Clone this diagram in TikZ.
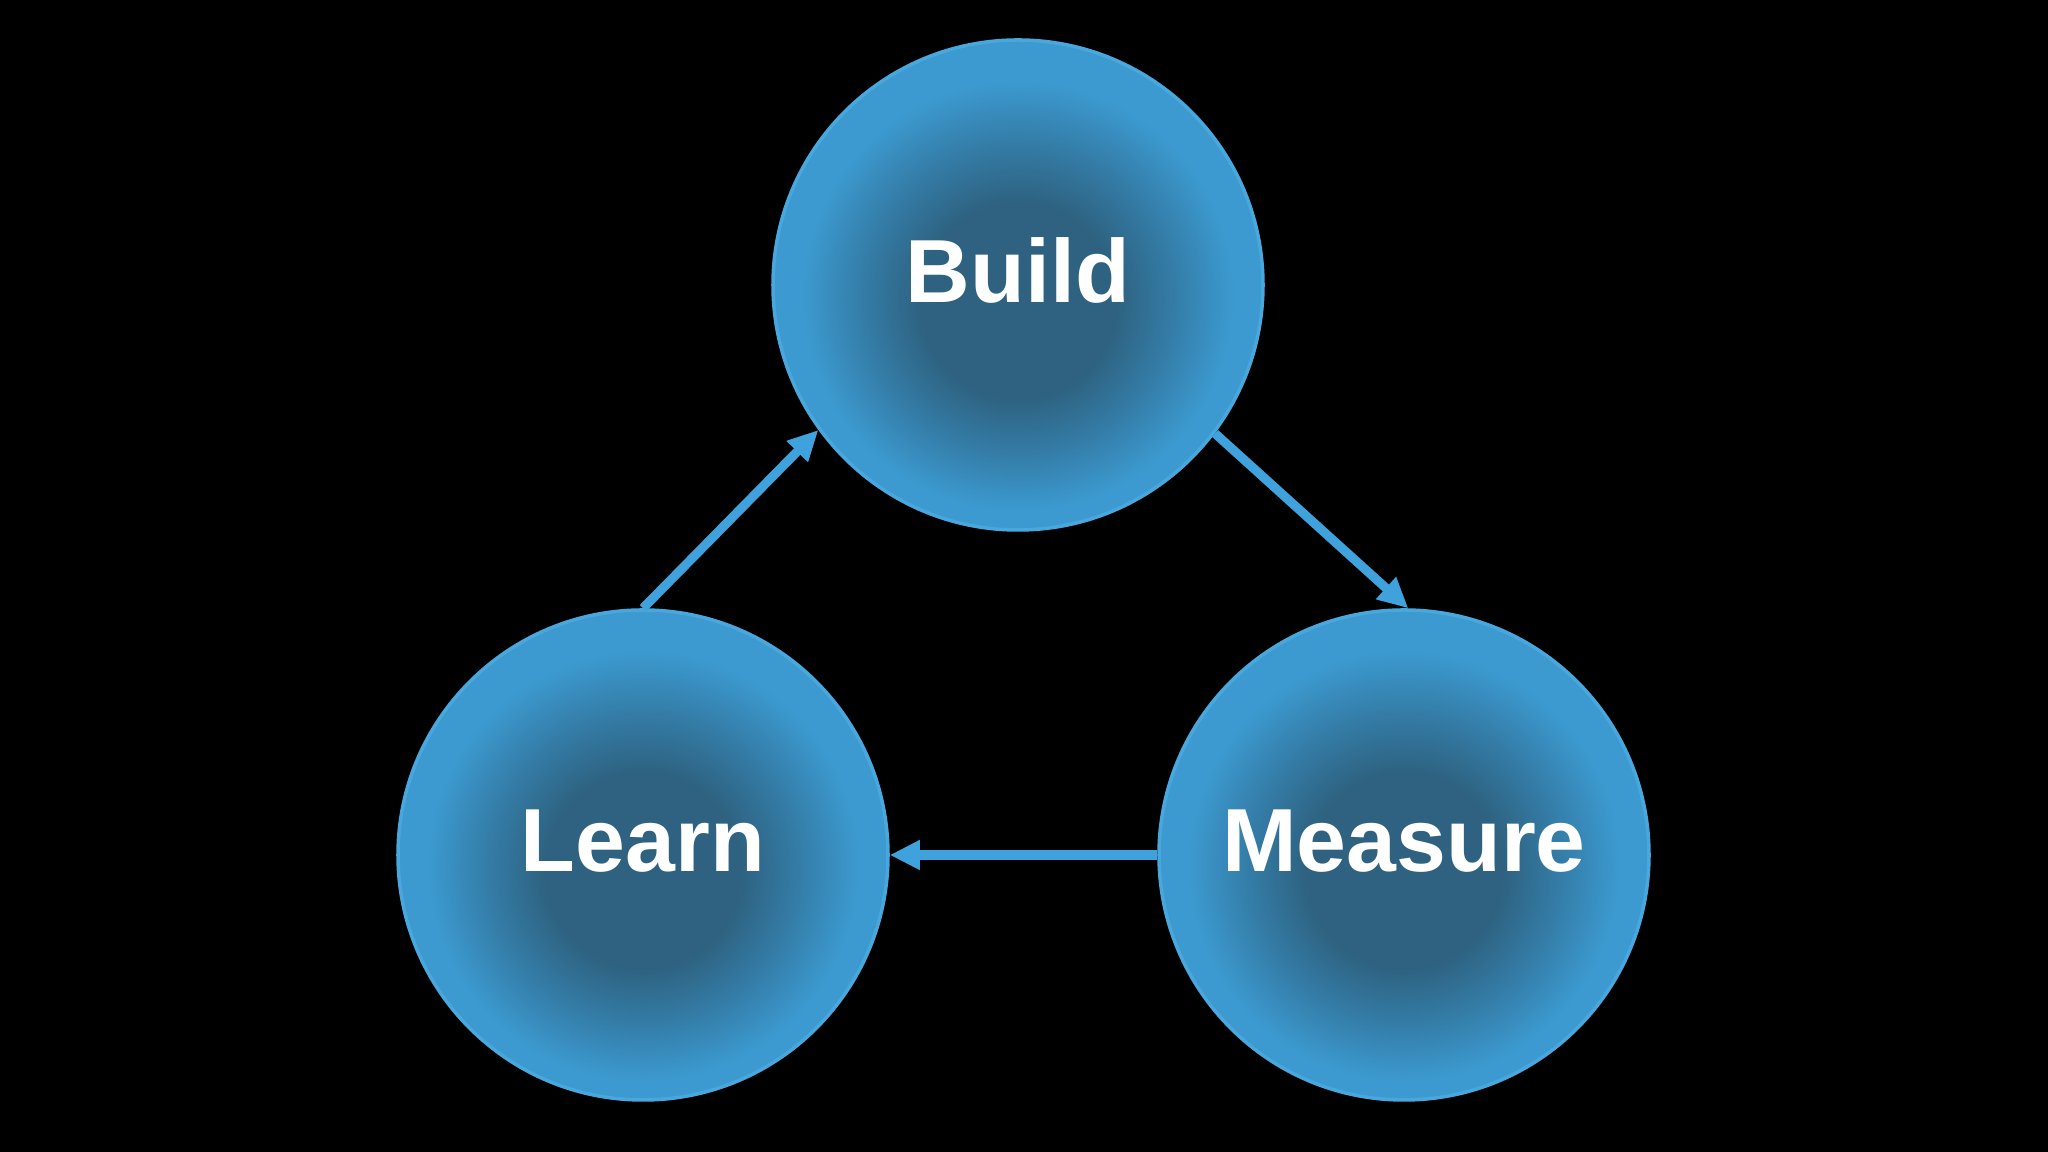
\documentclass[tikz,border=0pt]{standalone}
\usepackage{fontspec}
\setmainfont{Liberation Sans}
\usetikzlibrary{arrows.meta,calc}
\definecolor{cin}{RGB}{46,98,128}
\definecolor{cmid}{RGB}{52,125,168}
\definecolor{cout}{RGB}{60,154,208}
\definecolor{crim}{RGB}{72,168,222}
\definecolor{arrowc}{RGB}{64,162,220}
\pgfdeclareradialshading{bubble}{\pgfpoint{0bp}{-2bp}}{color(0bp)=(cin); color(10bp)=(cin); color(16bp)=(cmid); color(22bp)=(cout); color(26bp)=(cout); color(50bp)=(cout)}
\tikzset{
  bub/.style={circle, minimum size=4.9cm, inner sep=0pt, shading=bubble, draw=crim, line width=1pt},
  lbl/.style={text=white, font=\fontsize{25.5}{30}\selectfont\bfseries, inner sep=0pt},
  conn/.style={draw=arrowc, line width=2.6pt, -{Triangle[length=8.6pt, width=8pt]}}
}
\begin{document}
\begin{tikzpicture}
\fill[black] (0,0) rectangle (20.48,11.52);
\useasboundingbox (0,0) rectangle (20.48,11.52);
\node[bub] (B) at (10.18,8.67) {};
\node[bub] (L) at (6.43,2.97) {};
\node[bub] (M) at (14.04,2.97) {};
\node[lbl] (tB) at ($(B)+(0,0.15)$) {Build};
\node[lbl] (tL) at ($(L)+(0,0.14)$) {Learn};
\node[lbl] (tM) at ($(M)+(0,0.14)$) {Measure};
\draw[conn] (L.90) -- (B.216);
\draw[conn] (B.323) -- (M.89);
\draw[conn] (M.180) -- (L.0);
\end{tikzpicture}
\end{document}
